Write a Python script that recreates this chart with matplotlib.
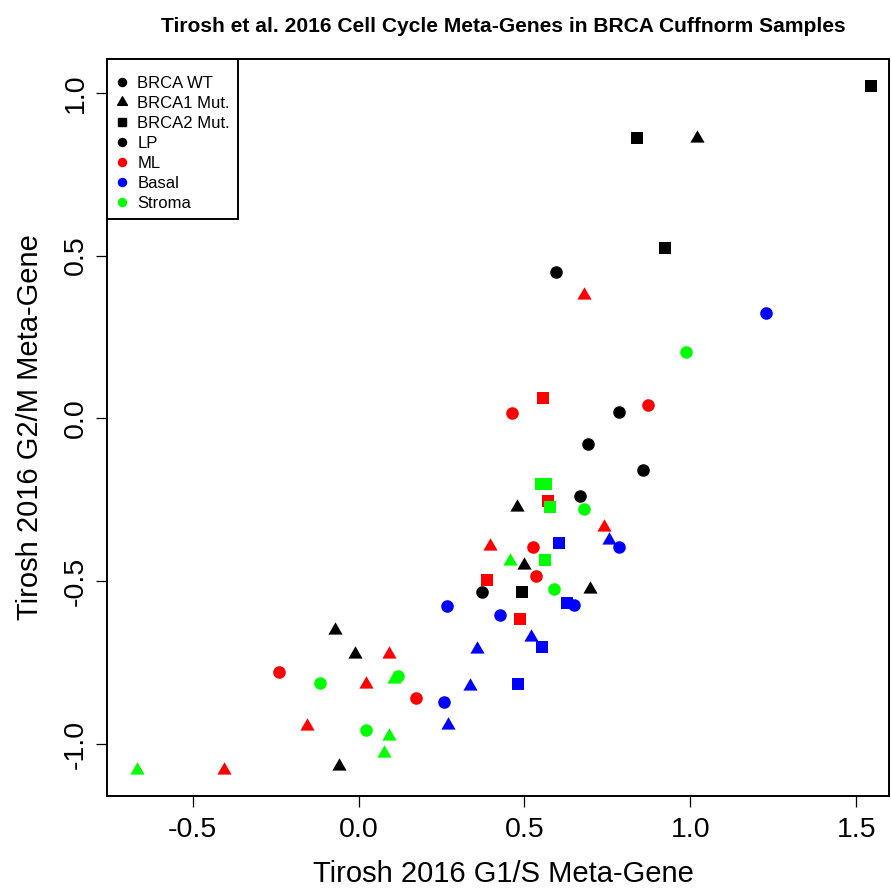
import matplotlib
matplotlib.use("Agg")
import matplotlib.pyplot as plt
from matplotlib.path import Path
from matplotlib.lines import Line2D
from matplotlib.patches import Rectangle

plt.rcParams['font.family'] = ['Liberation Sans', 'DejaVu Sans']

# ---- data (x = G1/S meta-gene, y = G2/M meta-gene) ----
# LP (black)
lp_wt_x = [0.596, 0.784, 0.691, 0.856, 0.667, 0.371]
lp_wt_y = [0.450, 0.021, -0.078, -0.158, -0.239, -0.534]
lp_b1_x = [1.020, 0.478, 0.498, 0.696, -0.070, -0.010, -0.060]
lp_b1_y = [0.861, -0.272, -0.451, -0.523, -0.650, -0.722, -1.067]
lp_b2_x = [1.545, 0.839, 0.925, 0.491]
lp_b2_y = [1.021, 0.861, 0.523, -0.534]
# ML (red)
ml_wt_x = [0.462, 0.872, 0.525, 0.535, -0.239, 0.173]
ml_wt_y = [0.017, 0.040, -0.393, -0.484, -0.778, -0.858]
ml_b1_x = [0.680, 0.740, 0.396, 0.091, 0.021, -0.155, -0.406]
ml_b1_y = [0.378, -0.333, -0.392, -0.724, -0.816, -0.943, -1.080]
ml_b2_x = [0.557, 0.570, 0.386, 0.487]
ml_b2_y = [0.064, -0.254, -0.495, -0.616]
# Basal (blue)
ba_wt_x = [1.228, 0.784, 0.649, 0.267, 0.427, 0.258]
ba_wt_y = [0.323, -0.396, -0.574, -0.576, -0.604, -0.871]
ba_b1_x = [0.754, 0.519, 0.356, 0.336, 0.269]
ba_b1_y = [-0.372, -0.671, -0.707, -0.822, -0.942]
ba_b2_x = [0.605, 0.629, 0.554, 0.481]
ba_b2_y = [-0.383, -0.566, -0.701, -0.816]
# Stroma (green)
st_wt_x = [0.987, 0.680, 0.589, -0.115, 0.021, 0.120]
st_wt_y = [0.203, -0.277, -0.523, -0.811, -0.955, -0.789]
st_b1_x = [0.457, 0.108, 0.093, 0.076, -0.669]
st_b1_y = [-0.436, -0.800, -0.976, -1.026, -1.080]
st_b2_x = [0.550, 0.565, 0.578, 0.561]
st_b2_y = [-0.202, -0.202, -0.271, -0.435]

legend_labels = ["BRCA WT", "BRCA1 Mut.", "BRCA2 Mut.", "LP", "ML", "Basal", "Stroma"]
title = "Tirosh et al. 2016 Cell Cycle Meta-Genes in BRCA Cuffnorm Samples"
xlabel = "Tirosh 2016 G1/S Meta-Gene"
ylabel = "Tirosh 2016 G2/M Meta-Gene"
xticks = [-0.5, 0.0, 0.5, 1.0, 1.5]
yticks = [-1.0, -0.5, 0.0, 0.5, 1.0]

BLACK, RED, BLUE, GREEN = "#000000", "#FF0000", "#0000FF", "#00FF00"

# equilateral triangle centred on its centroid (like R pch 17)
tri = Path([(0, 1.555), (1.347, -0.778), (-1.347, -0.778), (0, 1.555)],
           [Path.MOVETO, Path.LINETO, Path.LINETO, Path.CLOSEPOLY])

fig = plt.figure(figsize=(8.91, 8.88), dpi=100)
ax = fig.add_axes([0.1198, 0.1039, 0.8780, 0.8293])

S_SQ, S_TRI, S_CIR = 66, 140, 82
# squares
for x, y, c in [(ml_b2_x, ml_b2_y, RED), (lp_b2_x, lp_b2_y, BLACK),
                (ba_b2_x, ba_b2_y, BLUE), (st_b2_x, st_b2_y, GREEN)]:
    ax.scatter(x, y, marker='s', s=S_SQ, c=c, linewidths=0)
# triangles
for x, y, c in [(st_b1_x, st_b1_y, GREEN), (ml_b1_x, ml_b1_y, RED),
                (ba_b1_x, ba_b1_y, BLUE), (lp_b1_x, lp_b1_y, BLACK)]:
    ax.scatter(x, y, marker=tri, s=S_TRI, c=c, linewidths=0)
# circles
for x, y, c in [(lp_wt_x, lp_wt_y, BLACK), (ml_wt_x, ml_wt_y, RED),
                (ba_wt_x, ba_wt_y, BLUE), (st_wt_x, st_wt_y, GREEN)]:
    ax.scatter(x, y, marker='o', s=S_CIR, c=c, linewidths=0)

ax.set_xlim(-0.7594, 1.599)
ax.set_ylim(-1.158, 1.1025)
ax.set_xticks(xticks)
ax.set_xticklabels([f"{v:.1f}" for v in xticks])
ax.set_yticks(yticks)
ax.set_yticklabels([f"{v:.1f}" for v in yticks], rotation=90, va='center')
ax.tick_params(axis='both', direction='out', length=8, width=0.9, labelsize=20.5)
ax.tick_params(axis='x', pad=7)
ax.tick_params(axis='y', pad=5)
for sp in ax.spines.values():
    sp.set_linewidth(1.4)

ax.set_xlabel(xlabel, fontsize=21, va='center')
ax.xaxis.set_label_coords(0.507, -0.1065)
ax.set_ylabel(ylabel, fontsize=21, va='center')
ax.yaxis.set_label_coords(-0.0985, 0.5)

fig.text(0.5650, 0.970, title, ha='center', va='center', fontsize=15.1, fontweight='bold')

handles = [
    Line2D([], [], marker='o', color=BLACK, linestyle='none', markersize=5.8),
    Line2D([], [], marker=tri, color=BLACK, linestyle='none', markersize=8.2),
    Line2D([], [], marker='s', color=BLACK, linestyle='none', markersize=5.5),
    Line2D([], [], marker='o', color=BLACK, linestyle='none', markersize=5.8),
    Line2D([], [], marker='o', color=RED, linestyle='none', markersize=5.8),
    Line2D([], [], marker='o', color=BLUE, linestyle='none', markersize=5.8),
    Line2D([], [], marker='o', color=GREEN, linestyle='none', markersize=5.8),
]
# legend frame (R-style box anchored at the top-left corner)
frame = Rectangle((0, 0.7827), 0.1675, 0.2173, transform=ax.transAxes,
                  facecolor='white', edgecolor='black', linewidth=1.4,
                  zorder=4.9, clip_on=False)
ax.add_patch(frame)
leg = ax.legend(handles, legend_labels, loc='upper left',
                bbox_to_anchor=(0.0096, 0.978), borderaxespad=0, borderpad=0,
                fontsize=12, frameon=False, handlelength=0.9,
                handletextpad=0.48, labelspacing=0.30, numpoints=1)
leg.set_zorder(5)

fig.savefig("out.png", dpi=100)
